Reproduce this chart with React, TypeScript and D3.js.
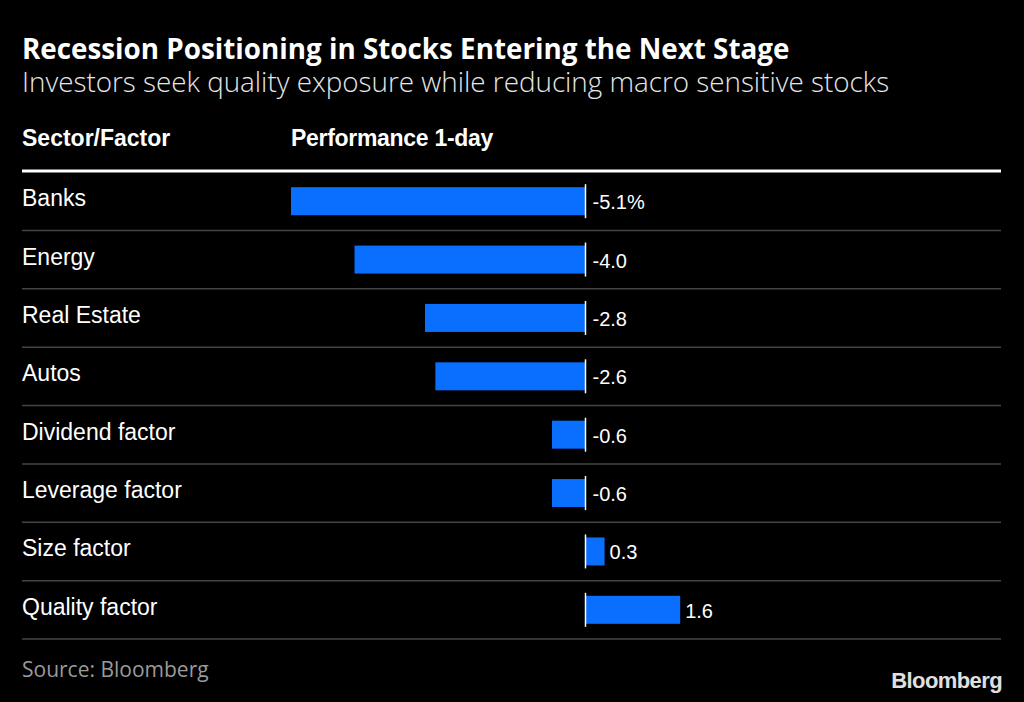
import React from "react";
import * as d3 from "d3";

const categories = ["Banks", "Energy", "Real Estate", "Autos", "Dividend factor", "Leverage factor", "Size factor", "Quality factor"];
const values = [-5.1, -4.0, -2.78, -2.6, -0.58, -0.58, 0.33, 1.64];
const valueLabels = ["-5.1%", "-4.0", "-2.8", "-2.6", "-0.6", "-0.6", "0.3", "1.6"];

const W = 1024;
const H = 702;

export default function App() {
  const x = d3.scaleLinear().domain([-5.1, 0]).range([291, 585.5]);
  const y = d3.scaleBand<string>().domain(categories).range([172, 639]).padding(0);
  const bh = 28;
  const tableFont = "'Liberation Sans', Arial, Helvetica, sans-serif";
  const titleFont = "'Open Sans', 'Noto Sans', sans-serif";
  return (
    <svg width={W} height={H} style={{ position: "absolute", left: 0, top: 0, background: "#000" }}>
      <rect x={0} y={0} width={W} height={H} fill="#000" />
      <text x={22} y={59} fill="#fff" fontFamily={titleFont} fontWeight={700} fontSize={27.8}>
        Recession Positioning in Stocks Entering the Next Stage
      </text>
      <text x={22} y={92} fill="#e6e6e6" fontFamily={titleFont} fontWeight={300} fontSize={27.8}>
        Investors seek quality exposure while reducing macro sensitive stocks
      </text>
      <text x={22} y={146} fill="#fff" fontFamily={tableFont} fontWeight={700} fontSize={23}>
        Sector/Factor
      </text>
      <text x={291} y={146} fill="#fff" fontFamily={tableFont} fontWeight={700} fontSize={23} letterSpacing={-0.3}>
        Performance 1-day
      </text>
      <line x1={22} x2={1001} y1={171} y2={171} stroke="#fff" strokeWidth={3} />
      {categories.map((c, i) => {
        const yc = (y(c) as number) + y.bandwidth() / 2;
        const v = values[i];
        const x0 = x(0);
        const xv = x(v);
        const left = Math.min(x0, xv);
        const w = Math.abs(xv - x0);
        const lx = v < 0 ? x0 + 7 : xv + 5;
        return (
          <g key={c}>
            <text x={22} y={yc + 5} fill="#fff" fontFamily={tableFont} fontSize={23}>
              {c}
            </text>
            <rect x={left} y={yc - bh / 2} width={w} height={bh} fill="#0a6eff" />
            <line x1={x0} x2={x0} y1={yc - bh / 2 - 3} y2={yc + bh / 2 + 3} stroke="#fff" strokeWidth={1.5} />
            <text x={lx} y={yc + 8} fill="#fff" fontFamily={tableFont} fontSize={20}>
              {valueLabels[i]}
            </text>
            <line x1={22} x2={1001} y1={(y(c) as number) + y.bandwidth()} y2={(y(c) as number) + y.bandwidth()} stroke="#444" strokeWidth={1.5} />
          </g>
        );
      })}
      <text x={22} y={677} fill="#9a9a9a" fontFamily={titleFont} fontSize={21}>
        Source: Bloomberg
      </text>
      <text x={1002} y={688} textAnchor="end" fill="#e0e0e0" fontFamily={tableFont} fontWeight={700} fontSize={22} letterSpacing={-0.6}>
        Bloomberg
      </text>
    </svg>
  );
}
